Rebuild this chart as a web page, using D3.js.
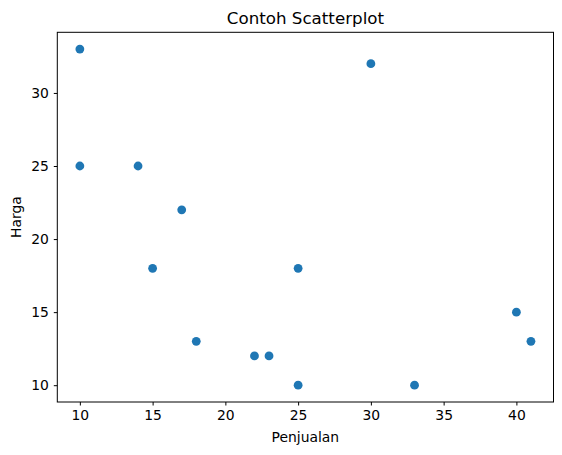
<!DOCTYPE html>
<html>
<head>
<meta charset="utf-8">
<script src="https://cdn.jsdelivr.net/npm/d3@7.9.0/dist/d3.min.js"></script>
<style>
  body { margin: 0; background: #fff; }
  svg { font-family: "DejaVu Sans", sans-serif; }
</style>
</head>
<body>
<svg id="chart"></svg>
<script>
// data
const penjualan = [10, 10, 14, 17, 15, 18, 22, 23, 25, 25, 30, 33, 40, 41];
const harga     = [33, 25, 25, 22, 18, 13, 12, 12, 18, 10, 32, 10, 15, 13];
const xTicks = [10, 15, 20, 25, 30, 35, 40];
const yTicks = [10, 15, 20, 25, 30];

const width = 562, height = 455;
const margin = { top: 32.3, right: 8.5, bottom: 53, left: 57.3 };

const svg = d3.select("#chart")
  .attr("width", width)
  .attr("height", height);

const points = penjualan.map((x, i) => ({ x, y: harga[i] }));

// matplotlib-style 5% padding around the data
const pad = (ext) => {
  const m = (ext[1] - ext[0]) * 0.05;
  return [ext[0] - m, ext[1] + m];
};

const x = d3.scaleLinear()
  .domain(pad(d3.extent(penjualan)))
  .range([margin.left, width - margin.right]);

const y = d3.scaleLinear()
  .domain(pad(d3.extent(harga)))
  .range([height - margin.bottom, margin.top]);

const xAxis = svg.append("g")
  .attr("transform", `translate(0,${height - margin.bottom})`)
  .call(d3.axisBottom(x).tickValues(xTicks).tickSize(3.5).tickPadding(4.9));

const yAxis = svg.append("g")
  .attr("transform", `translate(${margin.left},0)`)
  .call(d3.axisLeft(y).tickValues(yTicks).tickSize(3.5).tickPadding(4.9));

[xAxis, yAxis].forEach(g => {
  g.select(".domain").remove();
  g.selectAll("text").attr("font-size", "13.9px").attr("fill", "#000")
    .attr("font-family", "DejaVu Sans, sans-serif");
  g.selectAll("line").attr("stroke", "#000").attr("stroke-width", 1);
});

svg.selectAll("circle")
  .data(points)
  .enter()
  .append("circle")
  .attr("cx", d => x(d.x))
  .attr("cy", d => y(d.y))
  .attr("r", 4.4)
  .attr("fill", "#1f77b4");

// axes frame
svg.append("rect")
  .attr("x", margin.left)
  .attr("y", margin.top)
  .attr("width", width - margin.left - margin.right)
  .attr("height", height - margin.top - margin.bottom)
  .attr("fill", "none")
  .attr("stroke", "#000")
  .attr("stroke-width", 1);

svg.append("text")
  .attr("x", (margin.left + width - margin.right) / 2)
  .attr("y", 24)
  .attr("text-anchor", "middle")
  .attr("font-size", "16.7px")
  .text("Contoh Scatterplot");

svg.append("text")
  .attr("x", (margin.left + width - margin.right) / 2)
  .attr("y", 442)
  .attr("text-anchor", "middle")
  .attr("font-size", "13.9px")
  .text("Penjualan");

svg.append("text")
  .attr("transform", `translate(21,${(margin.top + height - margin.bottom) / 2}) rotate(-90)`)
  .attr("text-anchor", "middle")
  .attr("font-size", "13.9px")
  .text("Harga");
</script>
</body>
</html>
